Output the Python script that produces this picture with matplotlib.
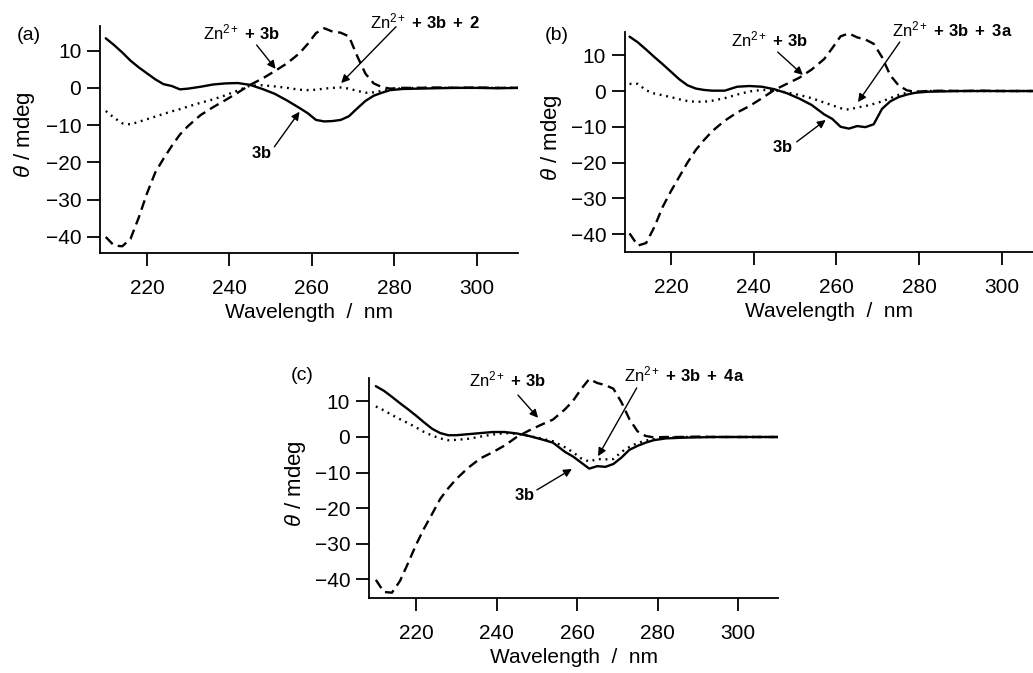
import matplotlib

matplotlib.use("Agg")
import matplotlib.pyplot as plt

plt.rcParams["font.family"] = ["Liberation Sans", "DejaVu Sans"]
plt.rcParams["mathtext.fontset"] = "custom"
plt.rcParams["mathtext.rm"] = "Liberation Sans"
plt.rcParams["mathtext.it"] = "Liberation Sans:italic"
plt.rcParams["mathtext.bf"] = "Liberation Sans:bold"

# wavelength grid (nm) shared by every trace
wavelength = [
    210, 212, 214, 216, 218, 220, 222, 224, 226, 228, 230, 233, 236, 239, 242,
    245, 248, 251, 254, 257, 259, 261, 263, 265, 267, 269, 271, 273, 275, 277,
    279, 282, 286, 290, 295, 300, 305, 310,
]

# --- panel (a) ---
a_3b = [
    13.3, 11.5, 9.5, 7.3, 5.5, 3.9, 2.3, 1.0, 0.5, -0.4, -0.2, 0.3, 0.9, 1.2, 1.3,
    0.8, -0.3, -1.6, -3.4, -5.4, -6.8, -8.6, -9.0, -8.9, -8.6, -7.6, -5.5, -3.5, -2.1, -1.3,
    -0.6, -0.3, -0.2, -0.1, 0.0, 0.0, -0.1, 0.0,
]
a_zn_3b = [
    -40.0, -42.3, -42.5, -40.5, -34.8, -28.3, -22.7, -19.0, -15.6, -12.5, -10.2, -7.3, -5.2, -3.3, -1.3,
    0.8, 2.5, 4.5, 6.6, 9.3, 11.8, 14.7, 16.0, 15.1, 14.8, 13.8, 8.5, 3.8, 1.2, 0.2,
    -0.2, 0.0, 0.0, 0.1, 0.0, 0.1, 0.0, 0.0,
]
a_zn_3b_2 = [
    -6.2, -8.0, -9.5, -9.8, -9.1, -8.4, -7.7, -7.0, -6.3, -5.7, -5.0, -4.0, -3.1, -2.0, -0.7,
    0.6, 0.7, 0.4, 0.0, -0.5, -0.6, -0.5, -0.2, 0.0, 0.1, -0.2, -0.8, -1.3, -1.2, -0.8,
    -0.4, -0.1, 0.0, 0.0, 0.0, 0.0, 0.0, 0.0,
]

# --- panel (b) ---
b_3b = [
    15.2, 13.6, 11.6, 9.5, 7.5, 5.4, 3.3, 1.6, 0.7, 0.3, 0.1, 0.1, 1.2, 1.4, 1.2,
    0.5, -0.6, -2.1, -3.9, -6.5, -7.8, -10.0, -10.5, -9.8, -10.1, -9.3, -5.0, -2.9, -1.7, -1.0,
    -0.5, -0.2, -0.1, 0.0, 0.0, 0.0, 0.0, 0.0,
]
b_zn_3b = [
    -39.8, -43.2, -42.5, -38.0, -32.4, -28.0, -24.0, -20.0, -16.5, -13.7, -11.2, -8.3, -6.0, -4.2, -2.0,
    0.3, 2.0, 3.7, 6.0, 8.9, 12.0, 15.3, 16.1, 15.0, 14.4, 13.2, 9.5, 4.4, 1.6, 0.2,
    -0.2, 0.0, 0.1, 0.0, 0.1, 0.0, 0.0, 0.0,
]
b_zn_3b_3a = [
    2.0, 2.0, 0.2, -0.7, -1.2, -1.7, -2.3, -2.8, -3.0, -3.0, -2.7, -2.0, -1.0, -0.1, 0.3,
    0.2, -0.4, -1.1, -2.0, -3.2, -4.0, -4.8, -5.2, -4.6, -4.2, -3.6, -2.9, -2.0, -1.1, -0.5,
    -0.2, 0.0, 0.0, 0.0, 0.0, 0.0, 0.0, 0.0,
]

# --- panel (c) ---
c_3b = [
    14.3, 13.0, 11.3, 9.5, 7.8, 6.0, 4.1, 2.3, 1.1, 0.5, 0.5, 0.8, 1.1, 1.4, 1.4,
    1.0, 0.3, -0.6, -1.6, -4.2, -5.5, -7.2, -8.9, -8.2, -8.4, -7.6, -5.8, -3.6, -2.5, -1.6,
    -0.9, -0.4, -0.2, -0.1, 0.0, 0.0, 0.0, 0.0,
]
c_zn_3b = [
    -40.2, -43.6, -43.8, -40.5, -35.5, -30.3, -25.7, -21.6, -17.4, -14.4, -11.8, -8.6, -6.0, -4.3, -2.4,
    0.0, 1.8, 3.4, 4.9, 7.8, 10.2, 13.5, 16.3, 15.2, 14.6, 13.6, 9.8, 5.0, 1.6, 0.3,
    -0.1, 0.0, 0.0, 0.1, 0.0, 0.0, 0.0, 0.0,
]
c_zn_3b_4a = [
    8.6, 7.5, 6.2, 5.0, 3.9, 2.7, 1.4, 0.4, -0.4, -0.9, -0.8, -0.5, 0.1, 0.7, 1.1,
    0.9, 0.3, -0.4, -1.2, -2.9, -4.3, -6.0, -6.9, -6.2, -6.3, -6.2, -4.2, -2.8, -1.7, -1.0,
    -0.6, -0.2, 0.0, 0.0, 0.0, 0.0, 0.0, 0.0,
]

x_ticks = [220, 240, 260, 280, 300]
y_ticks = [-40, -30, -20, -10, 0, 10]

LW = 1.7
W, H = 1033, 673


def draw_panel(fig, ax, tag, tag_xy, solid, dashed, dotted, third, xlim, ylim, arrows):
    ax.plot(wavelength, solid, color="black", lw=LW, solid_capstyle="round")
    ax.plot(wavelength, dashed, color="black", lw=LW, dashes=(4.2, 2.4))
    ax.plot(wavelength, dotted, color="black", lw=LW, linestyle=(0, (0.8, 2.0)))

    ax.set_xlim(*xlim)
    ax.set_ylim(*ylim)
    ax.set_xticks(x_ticks)
    ax.set_yticks(y_ticks)
    ax.set_yticklabels([str(v).replace("-", "\u2212") for v in y_ticks])
    for side in ("top", "right"):
        ax.spines[side].set_visible(False)
    for side in ("left", "bottom"):
        ax.spines[side].set_linewidth(1.3)
    ax.tick_params(direction="out", length=9.5, width=1.3, labelsize=15)
    ax.tick_params(axis="x", pad=9)
    ax.tick_params(axis="y", pad=4)
    ax.set_xlabel("Wavelength  /  nm", fontsize=15, labelpad=4)
    ax.set_ylabel(r"$\it{\theta}$ / mdeg", fontsize=16)
    ax.yaxis.set_label_coords(-0.15, 0.52)

    fig.text(tag_xy[0] / W, 1 - tag_xy[1] / H, f"({tag})", fontsize=14,
             ha="center", va="center")

    (t1, h1, p1), (t2, h2, p2), (t3, h3, p3) = arrows
    akw = dict(arrowstyle="-|>", color="black", lw=1.0, mutation_scale=12,
               shrinkA=0, shrinkB=0)
    ax.annotate("", xy=h1, xytext=t1, arrowprops=akw, annotation_clip=False)
    ax.annotate("", xy=h2, xytext=t2, arrowprops=akw, annotation_clip=False)
    ax.annotate("", xy=h3, xytext=t3, arrowprops=akw, annotation_clip=False)
    ax.text(*p1, r"Zn$^{2+}$ $\mathbf{+\ 3b}$", fontsize=12, ha="center",
            va="center", clip_on=False)
    ax.text(*p2, r"Zn$^{2+}$ $\mathbf{+\ 3b\ +\ " + third + "}$", fontsize=12,
            ha="center", va="center", clip_on=False)
    ax.text(*p3, r"$\mathbf{3b}$", fontsize=12, ha="center", va="center",
            clip_on=False)


fig = plt.figure(figsize=(W / 100, H / 100), dpi=100)

ax_a = fig.add_axes([100 / W, 1 - 253 / H, 418 / W, 227 / H])
ax_b = fig.add_axes([625 / W, 1 - 252 / H, 408 / W, 220 / H])
ax_c = fig.add_axes([369 / W, 1 - 598 / H, 409 / W, 220 / H])

draw_panel(
    fig, ax_a, "a", (29, 36), a_3b, a_zn_3b, a_zn_3b_2, "2",
    (208.6, 310), (-44.3, 16.6),
    [((246.6, 11.5), (251.2, 5.1), (243, 14.8)),
     ((280.4, 16.4), (267.1, 1.3), (287.6, 17.8)),
     ((250.9, -15.8), (257.0, -6.4), (247.8, -17.4))],
)
draw_panel(
    fig, ax_b, "b", (557, 36), b_3b, b_zn_3b, b_zn_3b_3a, "3a",
    (208.9, 307.5), (-45.0, 16.5),
    [((245.8, 10.9), (251.9, 4.5), (243.9, 14.3)),
     ((275.3, 13.7), (265.2, -3.1), (287.9, 17.2)),
     ((250.4, -14.2), (257.4, -8.1), (247.0, -15.6))],
)
draw_panel(
    fig, ax_c, "c", (302, 376), c_3b, c_zn_3b, c_zn_3b_4a, "4a",
    (208.3, 309.9), (-45.3, 16.6),
    [((245.3, 11.8), (250.3, 5.4), (242.6, 16.1)),
     ((274.8, 13.8), (265.2, -5.4), (286.7, 17.6)),
     ((250.0, -14.9), (258.7, -9.0), (247.0, -16.3))],
)

fig.savefig("out.png", dpi=100)
